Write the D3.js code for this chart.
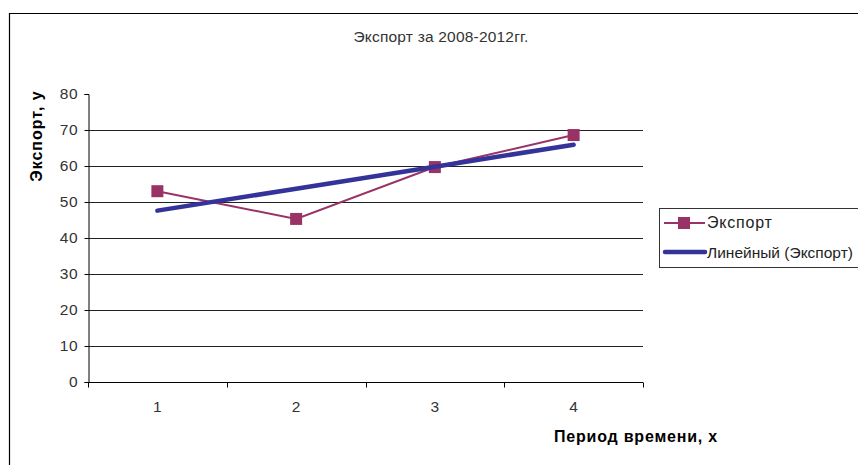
<!DOCTYPE html>
<html>
<head>
<meta charset="utf-8">
<style>
  body { margin: 0; background: #fff; }
  svg { display: block; font-family: "Liberation Sans", Arial, sans-serif; }
</style>
</head>
<body>
<svg id="chart" width="858" height="465"></svg>
<script src="https://d3js.org/d3.v7.min.js"></script>
<script>
// data
const periods = [1, 2, 3, 4];
const exportValues = [53, 45.3, 59.7, 68.6];
const trendValues = [47.6, 53.7, 59.8, 65.9];
const yTicks = [0, 10, 20, 30, 40, 50, 60, 70, 80];

const svg = d3.select("#chart");
const plotLeft = 88, plotRight = 643, plotTop = 94, plotBottom = 382;

// outer chart frame (cut by the picture edge on the right and bottom)
svg.append("path")
  .attr("d", "M9.5,470 V13.5 H870")
  .attr("fill", "none").attr("stroke", "#000").attr("stroke-width", 1.2);

svg.append("text")
  .attr("x", 441).attr("y", 42)
  .attr("text-anchor", "middle")
  .style("font-size", "15.5px").style("fill", "#333")
  .style("letter-spacing", "0.2px")
  .text("Экспорт за 2008-2012гг.");

const x = d3.scaleBand().domain(periods).range([plotLeft, plotRight]);
const y = d3.scaleLinear().domain([0, 80]).range([plotBottom, plotTop]);

// gridlines
svg.append("g").selectAll("line")
  .data(yTicks.filter(d => d > 0 && d < 80))
  .join("line")
  .attr("x1", plotLeft).attr("x2", plotRight)
  .attr("y1", d => Math.round(y(d)) + 0.5).attr("y2", d => Math.round(y(d)) + 0.5)
  .attr("stroke", "#222").attr("stroke-width", 1);

// y axis
const yAxis = svg.append("g")
  .attr("transform", `translate(${plotLeft + 0.5},0)`)
  .call(d3.axisLeft(y).tickValues(yTicks).tickSize(4).tickPadding(6));
yAxis.select(".domain").attr("stroke", "#000");
yAxis.selectAll(".tick line").attr("stroke", "#000");
yAxis.selectAll("text").style("font-size", "15.5px").style("fill", "#333")
  .style("letter-spacing", "0.8px")
  .style("font-family", "Liberation Sans, Arial, sans-serif");

// x axis with ticks between categories
const xAxis = svg.append("g")
  .attr("transform", `translate(0,${plotBottom + 0.5})`);
xAxis.append("line")
  .attr("x1", plotLeft).attr("x2", plotRight)
  .attr("stroke", "#000");
xAxis.selectAll(".sep")
  .data(periods.concat([null]))
  .join("line")
  .attr("class", "sep")
  .attr("x1", (d, i) => i < periods.length ? Math.round(x(d)) + 0.5 : plotRight + 0.5)
  .attr("x2", (d, i) => i < periods.length ? Math.round(x(d)) + 0.5 : plotRight + 0.5)
  .attr("y1", 0).attr("y2", 5)
  .attr("stroke", "#000");
xAxis.selectAll("text")
  .data(periods)
  .join("text")
  .attr("x", d => x(d) + x.bandwidth() / 2)
  .attr("y", 29)
  .attr("text-anchor", "middle")
  .style("font-size", "15.5px").style("fill", "#333")
  .text(d => d);

// axis titles
svg.append("text")
  .attr("transform", "translate(42,136) rotate(-90)")
  .attr("text-anchor", "middle")
  .style("font-size", "16px").style("font-weight", "bold")
  .style("letter-spacing", "1px")
  .text("Экспорт, у");

svg.append("text")
  .attr("x", 636).attr("y", 442)
  .attr("text-anchor", "middle")
  .style("font-size", "16px").style("font-weight", "bold")
  .style("letter-spacing", "0.8px")
  .text("Период времени, х");

const cx = d => x(d) + x.bandwidth() / 2;

// export series
svg.append("path")
  .datum(exportValues)
  .attr("fill", "none")
  .attr("stroke", "#993366").attr("stroke-width", 2)
  .attr("d", d3.line().x((d, i) => cx(periods[i])).y(d => y(d)));

svg.append("g").selectAll("rect")
  .data(exportValues)
  .join("rect")
  .attr("x", (d, i) => cx(periods[i]) - 6)
  .attr("y", d => y(d) - 6)
  .attr("width", 12).attr("height", 12)
  .attr("fill", "#993366");

// linear trend
svg.append("path")
  .datum(trendValues)
  .attr("fill", "none")
  .attr("stroke", "#333399").attr("stroke-width", 4.5)
  .attr("stroke-linecap", "round")
  .attr("d", d3.line().x((d, i) => cx(periods[i])).y(d => y(d)));

// legend
const lg = svg.append("g");
lg.append("rect")
  .attr("x", 659.5).attr("y", 208.5)
  .attr("width", 220).attr("height", 59)
  .attr("fill", "#fff").attr("stroke", "#333");
lg.append("line")
  .attr("x1", 664).attr("x2", 705).attr("y1", 223).attr("y2", 223)
  .attr("stroke", "#993366").attr("stroke-width", 2);
lg.append("rect")
  .attr("x", 678).attr("y", 217).attr("width", 12).attr("height", 12)
  .attr("fill", "#993366");
lg.append("text")
  .attr("x", 707).attr("y", 228)
  .style("font-size", "16px").style("fill", "#222")
  .style("letter-spacing", "0.8px")
  .text("Экспорт");
lg.append("line")
  .attr("x1", 665).attr("x2", 705).attr("y1", 252).attr("y2", 252)
  .attr("stroke", "#333399").attr("stroke-width", 4.5)
  .attr("stroke-linecap", "round");
lg.append("text")
  .attr("x", 707).attr("y", 258)
  .style("font-size", "15.5px").style("fill", "#222")
  .text("Линейный (Экспорт)");
</script>
</body>
</html>
